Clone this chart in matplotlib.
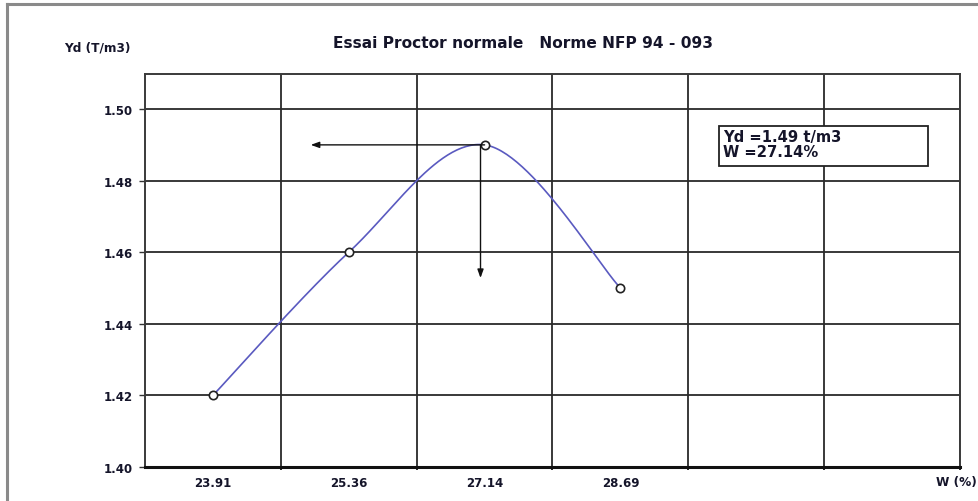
import numpy as np
import matplotlib
matplotlib.use("Agg")
import matplotlib.pyplot as plt
from matplotlib.lines import Line2D
from matplotlib.patches import Rectangle

# Proctor test data
water_labels = ["23.91", "25.36", "27.14", "28.69", "", ""]
dry_density = [1.42, 1.46, 1.49, 1.45]
y_ticks = [1.40, 1.42, 1.44, 1.46, 1.48, 1.50]
opt_density = 1.49
opt_water = "27.14"
opt_index = 2

title = "Essai Proctor normale   Norme NFP 94 - 093"
y_title = "Yd (T/m3)"
x_title = "W (%)"
box_text = "Yd =1.49 t/m3\nW =27.14%"

W, H = 979, 502
fig = plt.figure(figsize=(W / 100, H / 100), dpi=100)
fig.patch.set_facecolor("white")


def fx(px):
    return px / W


def fy(py):
    return 1 - py / H


# outer frame of the chart sheet
fig.add_artist(Line2D([fx(7), fx(7)], [0, fy(5)], color="#8a8a8a", lw=2.2))
fig.add_artist(Line2D([fx(7), 1], [fy(5), fy(5)], color="#8a8a8a", lw=2.2))

left, right, top, bottom = 145, 960, 75, 468
ax = fig.add_axes([fx(left), fy(bottom), (right - left) / W, (bottom - top) / H])

n = len(water_labels)
ax.set_xlim(-0.5, n - 0.5)
ax.set_ylim(1.40, 1.5098)

txt_kw = dict(family="DejaVu Sans", fontweight="bold", color="#15152a")

# grid on category boundaries and density ticks
ax.set_xticks(np.arange(n) + 0.5, minor=True)
ax.set_xticks(np.arange(n))
ax.set_xticklabels(water_labels, fontsize=8.5, **txt_kw)
ax.tick_params(axis="x", which="major", length=0, pad=6.5)
ax.tick_params(axis="x", which="minor", length=2.5, width=1.2, direction="out")
ax.set_yticks(y_ticks)
ax.set_yticklabels([f"{v:.2f}" for v in y_ticks], fontsize=8.5, **txt_kw)
ax.tick_params(axis="y", length=4.3, width=1.0, pad=4.5, color="#333333")
ax.grid(True, which="minor", axis="x", color="#2a2a2a", lw=1.3)
ax.grid(True, which="major", axis="y", color="#2a2a2a", lw=1.3)
ax.grid(False, which="major", axis="x")
ax.set_axisbelow(True)
for s in ["left", "right", "top"]:
    ax.spines[s].set_color("#3a3a3a")
    ax.spines[s].set_linewidth(1.4)
ax.spines["bottom"].set_color("#111111")
ax.spines["bottom"].set_linewidth(2.2)

# smoothed curve (Catmull-Rom) through the measured points
xs = np.arange(len(dry_density), dtype=float)
ys = np.array(dry_density)
P = np.column_stack([xs, ys])
Pp = np.vstack([P[0], P, P[-1]])
cx, cy = [], []
for i in range(1, len(Pp) - 2):
    p0, p1, p2, p3 = Pp[i - 1], Pp[i], Pp[i + 1], Pp[i + 2]
    t = np.linspace(0, 1, 60)[:, None]
    seg = 0.5 * ((2 * p1) + (-p0 + p2) * t + (2 * p0 - 5 * p1 + 4 * p2 - p3) * t ** 2
                 + (-p0 + 3 * p1 - 3 * p2 + p3) * t ** 3)
    cx.extend(seg[:, 0]); cy.extend(seg[:, 1])
ax.plot(cx, cy, color="#5a5ac0", lw=1.2, zorder=3)
ax.plot(xs, ys, ls="none", marker="o", ms=6, mfc="white", mec="#222222", mew=1.2, zorder=4)

# arrows from the optimum point to the axes
arrow_kw = dict(arrowstyle="-|>,head_length=0.5,head_width=0.18", color="#111111", lw=1.0,
                shrinkA=0, shrinkB=0)
ax.annotate("", xy=(0.72, opt_density), xytext=(opt_index, opt_density), arrowprops=arrow_kw, zorder=5)
ax.annotate("", xy=(opt_index - 0.03, 1.4528), xytext=(opt_index - 0.03, opt_density),
            arrowprops=arrow_kw, zorder=5)

# result box
fig.add_artist(Rectangle((fx(719), fy(167)), (928 - 719) / W, (167 - 127) / H,
                         transform=fig.transFigure, fc="white", ec="#222222", lw=1.3, zorder=6))
fig.text(fx(723), fy(145), box_text, fontsize=10.6, linespacing=0.95, va="center", ha="left",
         zorder=7, **txt_kw)

fig.text(fx(333), fy(43), title, ha="left", va="center", fontsize=11.1, **txt_kw)
fig.text(fx(97), fy(48), y_title, ha="center", va="center", fontsize=8.7, **txt_kw)
fig.text(fx(956), fy(483), x_title, ha="center", va="center", fontsize=8.7, **txt_kw)

fig.savefig("out.png", dpi=100, facecolor="white")
